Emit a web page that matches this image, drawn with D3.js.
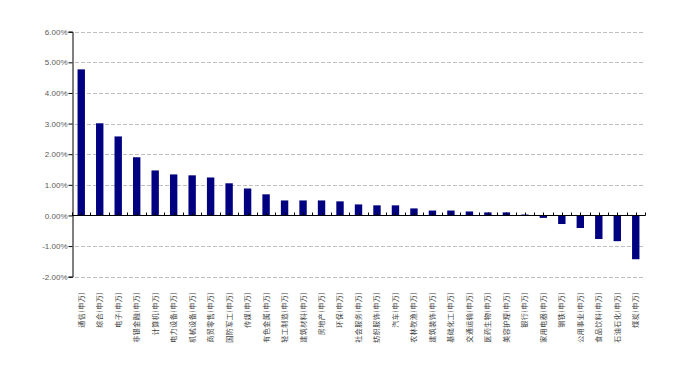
<!DOCTYPE html>
<html>
<head>
<meta charset="utf-8">
<script src="https://cdn.jsdelivr.net/npm/d3@7"></script>
<style>
  body { margin: 0; background: #fff; }
  #chart { width: 680px; height: 378px; }
</style>
</head>
<body>
<div id="chart"></div>
<script>
// industry returns, 申万 level-1
const industries = ['通信', '综合', '电子', '非银金融', '计算机', '电力设备', '机械设备', '商贸零售',
    '国防军工', '传媒', '有色金属', '轻工制造', '建筑材料', '房地产', '环保', '社会服务', '纺织服饰',
    '汽车', '农林牧渔', '建筑装饰', '基础化工', '交通运输', '医药生物', '美容护理', '银行', '家用电器',
    '钢铁', '公用事业', '食品饮料', '石油石化', '煤炭'];
const returns = [4.77, 3.01, 2.58, 1.90, 1.47, 1.34, 1.31, 1.24, 1.05, 0.88, 0.69, 0.49, 0.49, 0.49,
    0.46, 0.36, 0.33, 0.33, 0.23, 0.16, 0.16, 0.13, 0.10, 0.10, 0.03, -0.08, -0.28, -0.41, -0.77,
    -0.84, -1.43];
const yTicks = [-2, -1, 0, 1, 2, 3, 4, 5, 6];

const width = 680, height = 378;
const plotLeft = 72, plotRight = 645, plotTop = 31.7, plotBottom = 276.7;

const svg = d3.select('#chart').append('svg')
    .attr('width', width)
    .attr('height', height);

const labels = industries.map(d => d + '(申万)');

const x = d3.scaleBand()
    .domain(labels)
    .range([plotLeft, plotRight])
    .paddingInner(0.6)
    .paddingOuter(0.3);

const y = d3.scaleLinear()
    .domain([-2, 6])
    .range([plotBottom, plotTop]);

// gridlines
svg.append('g')
    .selectAll('line')
    .data(yTicks.filter(d => d !== 0))
    .enter()
    .append('line')
    .attr('x1', plotLeft + 3)
    .attr('x2', plotRight)
    .attr('y1', d => Math.round(y(d)) + 0.5)
    .attr('y2', d => Math.round(y(d)) + 0.5)
    .attr('stroke', '#bfbfbf')
    .attr('stroke-width', 1)
    .attr('stroke-dasharray', '4,2');

// bars
svg.append('g')
    .selectAll('rect')
    .data(returns)
    .enter()
    .append('rect')
    .attr('x', (d, i) => x(labels[i]))
    .attr('width', x.bandwidth())
    .attr('y', d => y(Math.max(0, d)))
    .attr('height', d => Math.abs(y(d) - y(0)))
    .attr('fill', '#000080');

// y axis
const yAxis = d3.axisLeft(y)
    .tickValues(yTicks)
    .tickSize(4)
    .tickFormat(d => d.toFixed(2) + '%');

const yg = svg.append('g')
    .attr('transform', `translate(${plotLeft + 0.5},0)`)
    .call(yAxis);
yg.select('.domain').attr('stroke', '#000');
yg.selectAll('.tick line').attr('stroke', '#000');
yg.selectAll('.tick text')
    .attr('x', -5)
    .attr('fill', '#595959')
    .style('font-family', '"Liberation Sans", Arial, sans-serif')
    .style('font-size', '8px');

// x axis at zero, ticks at band edges and centres pointing up
const step = x.step();
const tickPos = d3.range(0, industries.length * 2 + 1).map(k => plotLeft + k * step / 2);
const zeroY = Math.round(y(0)) + 0.5;

svg.append('line')
    .attr('x1', plotLeft)
    .attr('x2', plotRight + 0.5)
    .attr('y1', zeroY)
    .attr('y2', zeroY)
    .attr('stroke', '#000');

svg.append('g')
    .selectAll('line')
    .data(tickPos)
    .enter()
    .append('line')
    .attr('x1', d => Math.round(d) + 0.5)
    .attr('x2', d => Math.round(d) + 0.5)
    .attr('y1', zeroY)
    .attr('y2', zeroY - 3)
    .attr('stroke', '#000');

// category labels, rotated
svg.append('g')
    .selectAll('text')
    .data(labels)
    .enter()
    .append('text')
    .attr('transform', d => `translate(${x(d) + x.bandwidth() / 2},292) rotate(-90)`)
    .attr('text-anchor', 'end')
    .attr('dy', '0.35em')
    .attr('fill', '#404040')
    .style('font-family', '"Noto Sans CJK SC", sans-serif')
    .style('font-size', '7px')
    .style('letter-spacing', '0.5px')
    .text(d => d);
</script>
</body>
</html>
